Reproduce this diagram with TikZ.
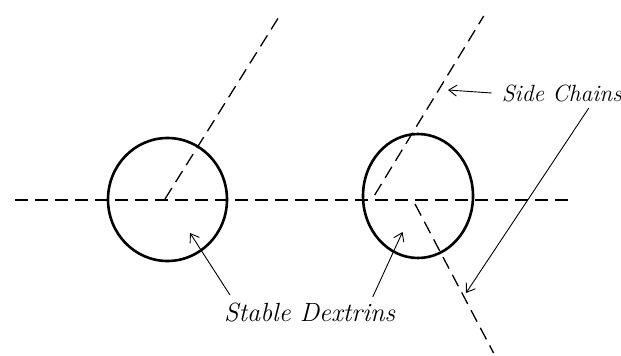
\documentclass[tikz,border=0pt]{standalone}
\usetikzlibrary{arrows.meta}
\begin{document}
\begin{tikzpicture}[x=1pt,y=-1pt,
  chain/.style={line width=1.3pt,dash pattern=on 13pt off 7pt},
  ring/.style={draw,line width=2.6pt},
  pointer/.style={line width=0.9pt,-{Straight Barb[length=8pt,width=11pt,line width=0.9pt]}},
  lab/.style={inner sep=0pt,anchor=west}]
\useasboundingbox (0,0) rectangle (621,356);
% backbone
\coordinate (b1) at (15,200);
\coordinate (b2) at (575,200);
\draw[chain] (b1) -- (b2);
% rings
\draw[ring] (167.5,199.5) ellipse [x radius=59.5, y radius=61.5];
\draw[ring] (418,196) ellipse [x radius=55, y radius=62];
% side chains
\coordinate (l0) at (165,199);
\coordinate (l1) at (279.5,16);
\draw[chain] (l0) -- (l1);
\coordinate (r0) at (374.7,195);
\coordinate (r1) at (483.7,16);
\draw[chain] (r0) -- (r1);
\coordinate (d0) at (415,204);
\coordinate (d1) at (493.6,353);
\draw[chain] (d0) -- (d1);
% labels
\node[lab,font=\fontsize{23.5}{25}\selectfont\itshape] (sc) at (501.6,93) {Side Chains};
\node[lab,font=\fontsize{26.3}{28}\selectfont\itshape] (sd) at (224,313) {Stable Dextrins};
% pointers
\coordinate (sca) at (448,90);
\coordinate (scb) at (466,293);
\coordinate (sc0) at (491.7,93);
\coordinate (sc1) at (588.8,108);
\draw[pointer] (sc0) -- (sca);
\draw[pointer] (sc1) -- (scb);
\coordinate (sda) at (190,233);
\coordinate (sdb) at (402.5,232);
\coordinate (sd0) at (230,295);
\coordinate (sd1) at (372.7,297);
\draw[pointer] (sd0) -- (sda);
\draw[pointer] (sd1) -- (sdb);
\end{tikzpicture}
\end{document}
